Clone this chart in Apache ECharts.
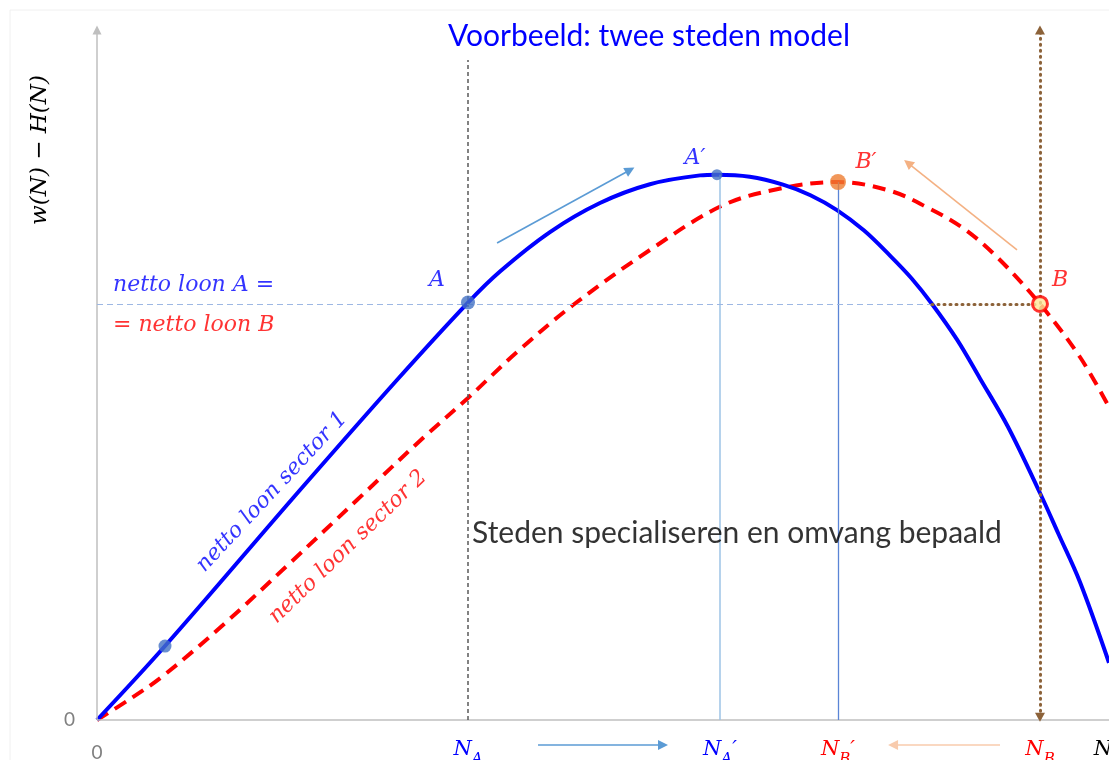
<!DOCTYPE html>
<html>
<head>
<meta charset="utf-8">
<title>Twee steden model</title>
<script src="https://cdn.jsdelivr.net/npm/echarts@6/dist/echarts.min.js"></script>
<style>html,body{margin:0;background:#fff;}</style>
</head>
<body>
<div id="chart" style="width:1109px;height:760px;"></div>
<script>
// N (x) and netto loon (y), arbitrary units 0-100
var sector1X = [0, 6.72, 20.06, 29.64, 36.66, 39.82, 44.76, 49.7, 54.64, 59.58, 61.26, 64.5, 67.79, 70.5, 73.12, 75.8, 78.36, 80.5, 82.51, 85, 87.25, 90, 93.18, 95, 97.13, 100];
var sector1Y = [0, 10.72, 33.33, 49.28, 60.5, 65.01, 70.72, 74.93, 77.65, 78.93, 79.03, 78.74, 77.6, 76.06, 73.9, 70.93, 67.3, 63.99, 60.29, 55.08, 49.5, 42.53, 32.9, 27.0, 20.0, 8.3];
var sector2X = [0, 3.26, 6.52, 12.45, 19.07, 25.69, 32.21, 36.66, 41.5, 47.04, 54.64, 61.86, 67.79, 73.22, 78.36, 82.02, 85.57, 88.93, 93.18, 97.13, 100];
var sector2Y = [0, 3.04, 6.38, 13.77, 22.75, 31.88, 40.87, 46.67, 53.33, 60.14, 68.12, 74.6, 77.1, 77.97, 76.7, 74.3, 71.3, 67.1, 60.29, 52.61, 45.36];

// marked points
var pointNames = ['', 'A', 'A′', 'B′', 'B'];
var pointX = [6.72, 36.66, 61.26, 73.22, 93.18];
var pointY = [10.72, 60.5, 79.03, 77.97, 60.3];

// x axis ticks: 0, N_A, N_A', N_B', N_B, N
var tickValues = [0, 36.66, 61.56, 73.22, 93.18, 99.4];
var tickLabels = ['0', 'NA', 'NA′', 'NB′', 'NB', 'N'];
var loonLevel = 60.3;

// text notes
var noteText = ['netto loon A =', '= netto loon B', 'netto loon sector 1', 'netto loon sector 2', 'Steden specialiseren en omvang bepaald'];
var noteX = [1.58, 1.58, 17.29, 24.8, 37.06];
var noteY = [63.04, 57.25, 33.04, 25.07, 27.1];

// arrows (from -> to)
var arrowFrom = [[39.53, 69.13], [90.91, 68.12], [43.58, -3.62], [89.23, -3.62]];
var arrowTo = [[52.67, 79.71], [80.14, 80.72], [55.93, -3.62], [78.66, -3.62]];

var BLUE = '#0000FF', RED = '#FF0000';
var MATH = "'DejaVu Serif'";

function zip(xs, ys) {
    var out = [];
    for (var i = 0; i < xs.length; i++) out.push([xs[i], ys[i]]);
    return out;
}

function tickFormatter(v) {
    var best = 0;
    for (var i = 0; i < tickValues.length; i++) {
        if (Math.abs(tickValues[i] - v) < Math.abs(tickValues[best] - v)) best = i;
    }
    var t = tickLabels[best];
    if (t === '0') return '{z|0}';
    var c = t.indexOf('A') > 0 ? 'b' : (t.indexOf('B') > 0 ? 'r' : 'k');
    var s = '{n' + c + '|' + t.charAt(0) + '}';
    if (t.length > 1) s += '{s' + c + '|' + t.charAt(1) + '}';
    if (t.length > 2) s += '{n' + c + '|' + t.charAt(2) + '}';
    return s;
}

function mainStyle(color) {
    return {color: color, fontFamily: MATH, fontStyle: 'italic', fontSize: 21, lineHeight: 22, verticalAlign: 'top'};
}
function subStyle(color) {
    return {color: color, fontFamily: MATH, fontStyle: 'italic', fontSize: 15, lineHeight: 16, padding: [12, 0, 0, 0], verticalAlign: 'top'};
}

var chart = echarts.init(document.getElementById('chart'));

var dotStyles = [
    {color: '#4472C4', size: 13},
    {color: '#4472C4', size: 14},
    {color: '#4472C4', size: 11},
    {color: '#ED7D31', size: 16},
    {color: '#FFE699', size: 15, border: RED}
];
var labelOffsets = [[0, 0], [-31, -22], [-22, -16], [28, -20], [20, -24]];
var pointColors = [BLUE, BLUE, BLUE, RED, RED];

var dots = [];
for (var i = 0; i < pointX.length; i++) {
    var st = dotStyles[i];
    dots.push({
        value: [pointX[i], pointY[i]],
        symbolSize: st.size,
        itemStyle: {color: st.color, borderColor: st.border || st.color, borderWidth: st.border ? 3 : 0},
        label: {
            show: pointNames[i] !== '',
            formatter: pointNames[i],
            offset: labelOffsets[i],
            position: 'inside',
            color: pointColors[i],
            fontFamily: MATH,
            fontStyle: 'italic',
            fontSize: 22
        }
    });
}

var noteStyles = [
    {color: BLUE, fontFamily: MATH, fontStyle: 'italic', fontSize: 22, align: 'left'},
    {color: RED, fontFamily: MATH, fontStyle: 'italic', fontSize: 22, align: 'left'},
    {color: BLUE, fontFamily: MATH, fontStyle: 'italic', fontSize: 22, rotate: 47},
    {color: RED, fontFamily: MATH, fontStyle: 'italic', fontSize: 22, rotate: 44},
    {color: '#000000', fontFamily: 'Lato', fontSize: 30, align: 'left'}
];
var notes = [];
for (var j = 0; j < noteText.length; j++) {
    var ns = noteStyles[j];
    notes.push({
        value: [noteX[j], noteY[j]],
        label: {
            show: true,
            position: 'inside',
            formatter: noteText[j],
            color: ns.color,
            fontFamily: ns.fontFamily,
            fontStyle: ns.fontStyle || 'normal',
            fontSize: ns.fontSize,
            align: ns.align || 'center',
            verticalAlign: 'middle',
            rotate: ns.rotate || 0
        }
    });
}

function seg(a, b, lineStyle, s1, s2, size) {
    return [
        {coord: a, symbol: s1 || 'none', symbolSize: size || 10, lineStyle: lineStyle},
        {coord: b, symbol: s2 || 'none', symbolSize: size || 10}
    ];
}

var guides = [
    // axes
    seg([0, 0], [0, 100], {color: '#BFBFBF', width: 1.5, type: 'solid'}, 'none', 'triangle', [9, 9]),
    seg([0, 0], [100, 0], {color: '#BFBFBF', width: 1.5, type: 'solid'}),
    // N_A dashed
    seg([tickValues[1], 0], [tickValues[1], 95.65], {color: '#595959', width: 1.5, type: [4, 3]}),
    // N_A' and N_B' verticals
    seg([tickValues[2], 0], [tickValues[2], pointY[2]], {color: '#9DC3E6', width: 1.5, type: 'solid'}),
    seg([tickValues[3], 0], [tickValues[3], pointY[3]], {color: '#5B85D6', width: 1.3, type: 'solid'}),
    // equal net wage level
    seg([0, loonLevel], [82.51, loonLevel], {color: '#9DB7E3', width: 1.2, type: [6, 4]}),
    seg([82.51, loonLevel], [tickValues[4], loonLevel], {color: '#8C6239', width: 3, type: [1, 5], cap: 'round'}),
    // N_B dotted with arrows
    seg([tickValues[4], 0.4], [tickValues[4], 100], {color: '#8C6239', width: 3, type: [1, 5], cap: 'round'}, 'triangle', 'triangle', [10, 9])
];
var arrowColors = ['#5B9BD5', '#F4B183', '#5B9BD5', '#F8CBAD'];
var headColors = ['#5B9BD5', '#ED7D31', '#5B9BD5', '#ED7D31'];
for (var k = 0; k < arrowFrom.length; k++) {
    var sg = seg(arrowFrom[k], arrowTo[k], {color: arrowColors[k], width: 1.6, type: 'solid'}, 'none', 'triangle', [10, 10]);
    sg[1].itemStyle = {color: headColors[k]};
    guides.push(sg);
}

var option = {
    animation: false,
    backgroundColor: '#ffffff',
    title: {
        text: 'Voorbeeld: twee steden model',
        left: 443,
        top: 16,
        textStyle: {color: BLUE, fontFamily: 'Lato', fontWeight: 'normal', fontSize: 30}
    },
    grid: {left: 97, right: 0, top: 30, bottom: 5.5, containLabel: false, outerBoundsMode: 'none'},
    xAxis: {
        type: 'value',
        min: 0,
        max: 100,
        axisLine: {show: false, onZero: false},
        axisTick: {show: false},
        splitLine: {show: false},
        axisLabel: {
            customValues: tickValues,
            margin: -15,
            formatter: tickFormatter,
            rich: {
                z: {color: '#808080', fontFamily: 'Lato', fontSize: 19, lineHeight: 22, padding: [4, 0, 0, 0]},
                nb: mainStyle(BLUE), sb: subStyle(BLUE),
                nr: mainStyle(RED), sr: subStyle(RED),
                nk: mainStyle('#000000'), sk: subStyle('#000000')
            }
        }
    },
    yAxis: {
        type: 'value',
        min: -5,
        max: 100,
        axisLine: {show: false},
        axisTick: {show: false},
        splitLine: {show: false},
        axisLabel: {customValues: [0], margin: 22, color: '#808080', fontFamily: 'Lato', fontSize: 19}
    },
    graphic: [
        {type: 'rect', shape: {x: 10, y: 10, width: 1200, height: 800}, style: {fill: 'none', stroke: '#F0F0F0', lineWidth: 1}, silent: true},
        {type: 'text', x: 40, y: 150, rotation: Math.PI / 2, silent: true,
         style: {text: 'w(N) − H(N)', fill: '#000000', font: 'italic 23px ' + MATH, textAlign: 'center', textVerticalAlign: 'middle'}}
    ],
    series: [
        {
            name: 'netto loon sector 2',
            type: 'line',
            data: zip(sector2X, sector2Y),
            smooth: 0.35,
            showSymbol: false,
            silent: true,
            z: 3,
            lineStyle: {color: RED, width: 4, type: [13, 8]}
        },
        {
            name: 'netto loon sector 1',
            type: 'line',
            data: zip(sector1X, sector1Y),
            smooth: 0.35,
            showSymbol: false,
            silent: true,
            z: 4,
            lineStyle: {color: BLUE, width: 4}
        },
        {
            name: 'punten',
            type: 'scatter',
            data: dots,
            silent: true,
            z: 5,
            markLine: {
                silent: true,
                animation: false,
                label: {show: false},
                emphasis: {disabled: true},
                data: guides
            }
        },
        {
            name: 'tekst',
            type: 'scatter',
            data: notes,
            symbolSize: 0,
            silent: true,
            z: 6
        }
    ]
};
chart.setOption(option);
</script>
</body>
</html>
